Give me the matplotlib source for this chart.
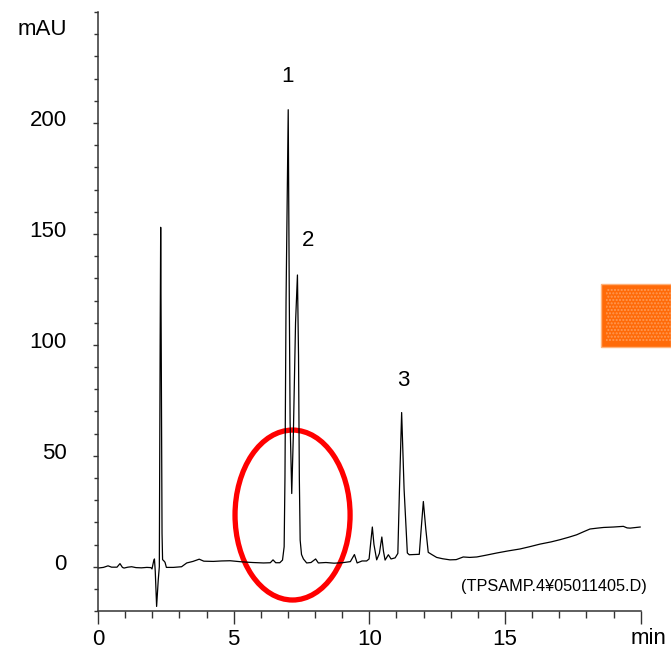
import matplotlib
matplotlib.use("Agg")
import matplotlib.pyplot as plt
from matplotlib.patches import Ellipse, Rectangle
from matplotlib.transforms import ScaledTranslation

plt.rcParams["font.family"] = "Liberation Sans"
plt.rcParams["hatch.linewidth"] = 1.0

# Chromatogram trace: retention time (min), response (mAU)
TIME = [
    0.00, 0.20, 0.37, 0.50, 0.70, 0.81, 0.90, 0.96, 1.10, 1.24, 1.40, 1.60,
    1.80, 1.95, 1.99, 2.05, 2.08, 2.11, 2.16, 2.22, 2.26, 2.29, 2.31, 2.33,
    2.36, 2.38, 2.43, 2.47, 2.52, 2.59, 2.78, 3.08, 3.27, 3.50, 3.73, 3.90,
    4.25, 4.55, 4.87, 5.30, 5.70, 6.10, 6.35, 6.45, 6.55, 6.70, 6.80, 6.86,
    6.89, 6.93, 7.01, 7.05, 7.08, 7.14, 7.20, 7.28, 7.35, 7.39, 7.42, 7.45,
    7.50, 7.57, 7.69, 7.85, 8.02, 8.12, 8.40, 8.70, 9.00, 9.30, 9.45, 9.55,
    9.73, 9.90, 9.99, 10.06, 10.11, 10.17, 10.27, 10.37, 10.46, 10.52, 10.58,
    10.70, 10.80, 10.95, 11.05, 11.11, 11.19, 11.28, 11.40, 11.47, 11.65,
    11.84, 11.91, 11.99, 12.08, 12.17, 12.30, 12.48, 12.70, 12.97, 13.20,
    13.46, 13.70, 13.96, 14.30, 14.70, 15.10, 15.55, 15.90, 16.29, 16.70,
    17.03, 17.35, 17.64, 17.90, 18.13, 18.40, 18.63, 19.00, 19.36, 19.50,
    19.61, 19.98,
]
SIGNAL = [
    -0.6, -0.3, 0.4, -0.2, -0.2, 1.4, -0.3, -0.6, -0.2, 0.0, -0.4, -0.5,
    -0.3, -0.4, -1.0, 2.5, 3.5, -2.0, -17.9, -6.0, 0.0, 100.0, 153.0, 100.0,
    15.0, 3.2, 2.6, 2.0, -0.3, -0.3, -0.3, 0.0, 1.7, 2.4, 3.4, 2.5,
    2.4, 2.6, 2.7, 2.2, 1.9, 1.7, 1.8, 3.1, 1.8, 1.8, 3.0, 9.0,
    40.0, 120.0, 206.0, 120.0, 65.0, 33.0, 60.0, 110.0, 131.5, 95.0, 40.0, 12.0,
    5.5, 3.5, 1.7, 1.9, 3.5, 1.7, 1.9, 1.6, 1.8, 2.3, 5.5, 1.7,
    2.6, 2.6, 3.5, 12.0, 17.9, 10.0, 3.1, 6.0, 13.4, 7.0, 3.0,
    5.4, 3.5, 4.0, 6.0, 35.0, 69.5, 35.0, 6.2, 5.4, 5.5,
    5.6, 17.0, 29.4, 17.0, 6.5, 5.5, 4.2, 3.6, 3.1, 3.2,
    4.4, 4.2, 4.4, 5.2, 6.2, 7.1, 8.0, 9.0, 10.2, 11.2,
    12.2, 13.3, 14.4, 15.8, 17.0, 17.4, 17.7, 17.9, 18.2, 17.5,
    17.4, 17.9,
]

PEAK_LABELS = ["1", "2", "3"]
PEAK_LABEL_X = [7.0, 7.74, 11.24]
PEAK_LABEL_Y = [221, 147, 84]

X_TICKS = [0, 5, 10, 15, 20]
X_TICK_LABELS = ["0", "5", "10", "15", ""]
Y_TICKS = [0, 50, 100, 150, 200]
Y_TICK_LABELS = ["0", "50", "100", "150", "200"]
FILE_TAG = "(TPSAMP.4\u00a505011405.D)"

W, H = 671, 652
fig = plt.figure(figsize=(W / 100, H / 100), dpi=100)
ax = fig.add_axes([98 / W, 1 - 611.1 / H, 542.7 / W, 599 / H])

ax.plot(TIME, SIGNAL, color="black", lw=0.9)
ax.set_xlim(0, 20)
ax.set_ylim(-20, 250)

for s in ("top", "right"):
    ax.spines[s].set_visible(False)
for s in ("left", "bottom"):
    ax.spines[s].set_color("#333333")
    ax.spines[s].set_linewidth(1.1)

ax.set_xticks(X_TICKS)
ax.set_xticklabels(X_TICK_LABELS, fontsize=16)
ax.set_xticks(range(0, 21), minor=True)
ax.set_yticks(Y_TICKS)
ax.set_yticklabels(Y_TICK_LABELS, fontsize=16)
ax.set_yticks(range(-20, 251, 10), minor=True)
ax.tick_params(axis="x", which="major", length=9.5, width=1.0, pad=3.5, color="#333333")
ax.tick_params(axis="x", which="minor", length=5, width=1.0, color="#333333")
ax.tick_params(axis="y", which="major", length=3.6, width=1.0, pad=19, color="#333333")
ax.tick_params(axis="y", which="minor", length=2.6, width=1.0, color="#333333")

# y labels sit a little above their ticks in the original
lift = ScaledTranslation(0, 3.6 / 72, fig.dpi_scale_trans)
for lab in ax.get_yticklabels():
    lab.set_transform(lab.get_transform() + lift)

for txt, x, y in zip(PEAK_LABELS, PEAK_LABEL_X, PEAK_LABEL_Y):
    ax.text(x, y, txt, fontsize=16, ha="center", va="center")

fig.text(67 / W, 1 - 29.5 / H, "mAU", fontsize=16, ha="right", va="center")
fig.text(649 / W, 1 - 638 / H, "min", fontsize=16, ha="center", va="center")
fig.text(554 / W, 1 - 587 / H, FILE_TAG, fontsize=11.7, ha="center", va="center")

# highlight around the co-eluting pair
ax.add_patch(Ellipse((7.17, 23.3), 4.24, 76.6, fill=False, edgecolor="#ff0000", lw=3.8))

# orange marker box at the right edge
fig.patches.append(Rectangle((601 / W, 1 - 347 / H), 70 / W, 63 / H,
                             transform=fig.transFigure, facecolor="#ff6a08",
                             edgecolor="#ffb27a", lw=1.0))
fig.patches.append(Rectangle((606 / W, 1 - 342 / H), 65 / W, 53 / H,
                             transform=fig.transFigure, facecolor="none",
                             edgecolor="#ff9a55", lw=0, hatch="....."))

fig.savefig("out.png", dpi=100)
